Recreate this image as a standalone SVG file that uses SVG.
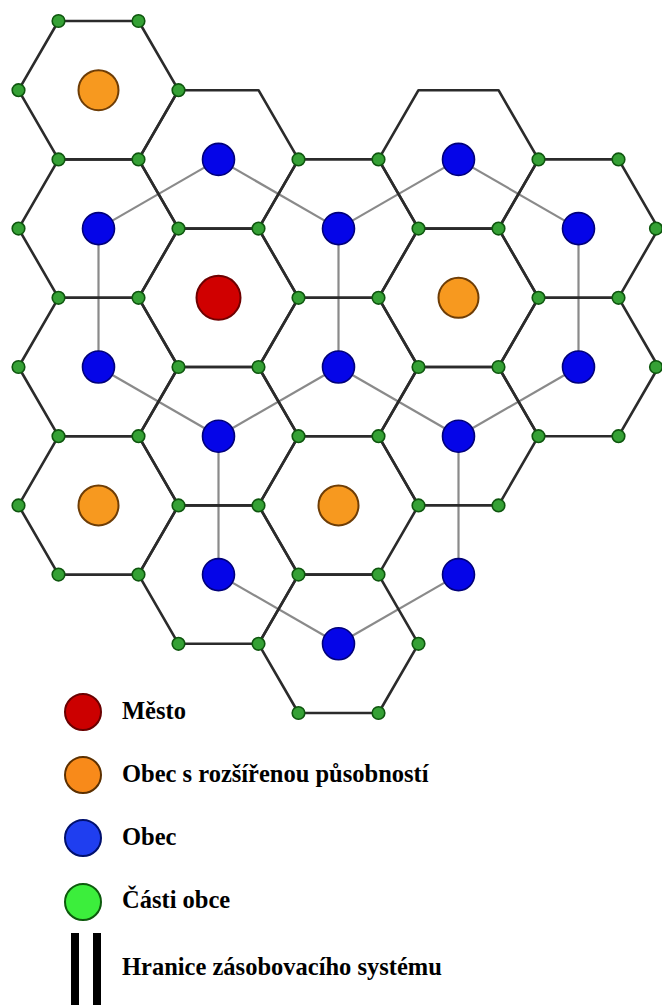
<svg xmlns="http://www.w3.org/2000/svg" width="662" height="1005" viewBox="0 0 662 1005">
<style>
.hex{fill:none;stroke:#2b2b2b;stroke-width:2.6;stroke-linejoin:round}
.con{stroke:#8a8a8a;stroke-width:2.2;fill:none}
.g{fill:#35a135;stroke:#0e560e;stroke-width:1.6}
.b{fill:#0505e8;stroke:#00007a;stroke-width:1.6}
.o{fill:#f7991f;stroke:#6e3d06;stroke-width:2}
.r{fill:#d00000;stroke:#6e0000;stroke-width:2}
.lt{font-family:"Liberation Serif","Times New Roman",serif;font-weight:bold;font-size:24.5px;fill:#000}
</style>
<defs>
<polygon id="hex" class="hex" points="-80,0 -40,-69.2 40,-69.2 80,0 40,69.2 -40,69.2"/>
</defs>
<rect width="662" height="1005" fill="#ffffff"/>
<g id="connectors">
<line class="con" x1="98.5" y1="228.6" x2="218.5" y2="159.4"/>
<line class="con" x1="218.5" y1="159.4" x2="338.5" y2="228.6"/>
<line class="con" x1="338.5" y1="228.6" x2="458.5" y2="159.4"/>
<line class="con" x1="458.5" y1="159.4" x2="578.5" y2="228.6"/>
<line class="con" x1="98.5" y1="228.6" x2="98.5" y2="367"/>
<line class="con" x1="338.5" y1="228.6" x2="338.5" y2="367"/>
<line class="con" x1="578.5" y1="228.6" x2="578.5" y2="367"/>
<line class="con" x1="98.5" y1="367" x2="218.5" y2="436.2"/>
<line class="con" x1="338.5" y1="367" x2="218.5" y2="436.2"/>
<line class="con" x1="338.5" y1="367" x2="458.5" y2="436.2"/>
<line class="con" x1="578.5" y1="367" x2="458.5" y2="436.2"/>
<line class="con" x1="218.5" y1="436.2" x2="218.5" y2="574.6"/>
<line class="con" x1="458.5" y1="436.2" x2="458.5" y2="574.6"/>
<line class="con" x1="218.5" y1="574.6" x2="338.5" y2="643.8"/>
<line class="con" x1="458.5" y1="574.6" x2="338.5" y2="643.8"/>
</g>
<g id="hexagons">
<use href="#hex" x="98.5" y="90.2"/>
<use href="#hex" x="98.5" y="228.6"/>
<use href="#hex" x="98.5" y="367"/>
<use href="#hex" x="98.5" y="505.4"/>
<use href="#hex" x="218.5" y="159.4"/>
<use href="#hex" x="218.5" y="297.8"/>
<use href="#hex" x="218.5" y="436.2"/>
<use href="#hex" x="218.5" y="574.6"/>
<use href="#hex" x="338.5" y="228.6"/>
<use href="#hex" x="338.5" y="367"/>
<use href="#hex" x="338.5" y="505.4"/>
<use href="#hex" x="338.5" y="643.8"/>
<use href="#hex" x="458.5" y="159.4"/>
<use href="#hex" x="458.5" y="297.8"/>
<use href="#hex" x="458.5" y="436.2"/>
<use href="#hex" x="578.5" y="228.6"/>
<use href="#hex" x="578.5" y="367"/>
</g>
<g id="parts">
<g id="p-18-1"><circle class="g" cx="18.5" cy="90.2" r="6.3"/></g>
<g id="p-18-3"><circle class="g" cx="18.5" cy="228.6" r="6.3"/></g>
<g id="p-18-5"><circle class="g" cx="18.5" cy="367" r="6.3"/></g>
<g id="p-18-7"><circle class="g" cx="18.5" cy="505.4" r="6.3"/></g>
<g id="p-58-0"><circle class="g" cx="58.5" cy="21" r="6.3"/></g>
<g id="p-58-2"><circle class="g" cx="58.5" cy="159.4" r="6.3"/></g>
<g id="p-58-4"><circle class="g" cx="58.5" cy="297.8" r="6.3"/></g>
<g id="p-58-6"><circle class="g" cx="58.5" cy="436.2" r="6.3"/></g>
<g id="p-58-8"><circle class="g" cx="58.5" cy="574.6" r="6.3"/></g>
<g id="p-138-0"><circle class="g" cx="138.5" cy="21" r="6.3"/></g>
<g id="p-138-2"><circle class="g" cx="138.5" cy="159.4" r="6.3"/></g>
<g id="p-138-4"><circle class="g" cx="138.5" cy="297.8" r="6.3"/></g>
<g id="p-138-6"><circle class="g" cx="138.5" cy="436.2" r="6.3"/></g>
<g id="p-138-8"><circle class="g" cx="138.5" cy="574.6" r="6.3"/></g>
<g id="p-178-1"><circle class="g" cx="178.5" cy="90.2" r="6.3"/></g>
<g id="p-178-3"><circle class="g" cx="178.5" cy="228.6" r="6.3"/></g>
<g id="p-178-5"><circle class="g" cx="178.5" cy="367" r="6.3"/></g>
<g id="p-178-7"><circle class="g" cx="178.5" cy="505.4" r="6.3"/></g>
<g id="p-178-9"><circle class="g" cx="178.5" cy="643.8" r="6.3"/></g>
<g id="p-258-3"><circle class="g" cx="258.5" cy="228.6" r="6.3"/></g>
<g id="p-258-5"><circle class="g" cx="258.5" cy="367" r="6.3"/></g>
<g id="p-258-7"><circle class="g" cx="258.5" cy="505.4" r="6.3"/></g>
<g id="p-258-9"><circle class="g" cx="258.5" cy="643.8" r="6.3"/></g>
<g id="p-298-2"><circle class="g" cx="298.5" cy="159.4" r="6.3"/></g>
<g id="p-298-4"><circle class="g" cx="298.5" cy="297.8" r="6.3"/></g>
<g id="p-298-6"><circle class="g" cx="298.5" cy="436.2" r="6.3"/></g>
<g id="p-298-8"><circle class="g" cx="298.5" cy="574.6" r="6.3"/></g>
<g id="p-298-10"><circle class="g" cx="298.5" cy="713" r="6.3"/></g>
<g id="p-378-2"><circle class="g" cx="378.5" cy="159.4" r="6.3"/></g>
<g id="p-378-4"><circle class="g" cx="378.5" cy="297.8" r="6.3"/></g>
<g id="p-378-6"><circle class="g" cx="378.5" cy="436.2" r="6.3"/></g>
<g id="p-378-8"><circle class="g" cx="378.5" cy="574.6" r="6.3"/></g>
<g id="p-378-10"><circle class="g" cx="378.5" cy="713" r="6.3"/></g>
<g id="p-418-3"><circle class="g" cx="418.5" cy="228.6" r="6.3"/></g>
<g id="p-418-5"><circle class="g" cx="418.5" cy="367" r="6.3"/></g>
<g id="p-418-7"><circle class="g" cx="418.5" cy="505.4" r="6.3"/></g>
<g id="p-418-9"><circle class="g" cx="418.5" cy="643.8" r="6.3"/></g>
<g id="p-498-3"><circle class="g" cx="498.5" cy="228.6" r="6.3"/></g>
<g id="p-498-5"><circle class="g" cx="498.5" cy="367" r="6.3"/></g>
<g id="p-498-7"><circle class="g" cx="498.5" cy="505.4" r="6.3"/></g>
<g id="p-538-2"><circle class="g" cx="538.5" cy="159.4" r="6.3"/></g>
<g id="p-538-4"><circle class="g" cx="538.5" cy="297.8" r="6.3"/></g>
<g id="p-538-6"><circle class="g" cx="538.5" cy="436.2" r="6.3"/></g>
<g id="p-618-2"><circle class="g" cx="618.5" cy="159.4" r="6.3"/></g>
<g id="p-618-4"><circle class="g" cx="618.5" cy="297.8" r="6.3"/></g>
<g id="p-618-6"><circle class="g" cx="618.5" cy="436.2" r="6.3"/></g>
<g id="p-658-3"><circle class="g" cx="656" cy="228.6" r="6.3"/></g>
<g id="p-658-5"><circle class="g" cx="656" cy="367" r="6.3"/></g>
</g>
<g id="towns">
<g id="mesto"><circle class="r" cx="218.5" cy="297.8" r="22"/></g>
<g id="orp1"><circle class="o" cx="98.5" cy="90.2" r="20"/></g>
<g id="orp2"><circle class="o" cx="458.5" cy="297.8" r="20"/></g>
<g id="orp3"><circle class="o" cx="98.5" cy="505.4" r="20"/></g>
<g id="orp4"><circle class="o" cx="338.5" cy="505.4" r="20"/></g>
<g id="obec1"><circle class="b" cx="218.5" cy="159.4" r="16"/></g>
<g id="obec2"><circle class="b" cx="98.5" cy="228.6" r="16"/></g>
<g id="obec3"><circle class="b" cx="338.5" cy="228.6" r="16"/></g>
<g id="obec4"><circle class="b" cx="458.5" cy="159.4" r="16"/></g>
<g id="obec5"><circle class="b" cx="578.5" cy="228.6" r="16"/></g>
<g id="obec6"><circle class="b" cx="98.5" cy="367" r="16"/></g>
<g id="obec7"><circle class="b" cx="338.5" cy="367" r="16"/></g>
<g id="obec8"><circle class="b" cx="578.5" cy="367" r="16"/></g>
<g id="obec9"><circle class="b" cx="218.5" cy="436.2" r="16"/></g>
<g id="obec10"><circle class="b" cx="458.5" cy="436.2" r="16"/></g>
<g id="obec11"><circle class="b" cx="218.5" cy="574.6" r="16"/></g>
<g id="obec12"><circle class="b" cx="458.5" cy="574.6" r="16"/></g>
<g id="obec13"><circle class="b" cx="338.5" cy="643.8" r="16"/></g>
</g>
<g id="legend">
<g id="leg-mesto"><circle cx="83" cy="712" r="18" fill="#cc0000" stroke="#6a0000" stroke-width="2"/><text class="lt" x="122" y="719">Město</text></g>
<g id="leg-orp"><circle cx="83" cy="775" r="18" fill="#f88a1a" stroke="#5c3000" stroke-width="2"/><text class="lt" x="122" y="782">Obec s rozšířenou působností</text></g>
<g id="leg-obec"><circle cx="83" cy="838" r="18" fill="#1f3ef0" stroke="#00106e" stroke-width="2"/><text class="lt" x="122" y="845">Obec</text></g>
<g id="leg-casti"><circle cx="83" cy="902" r="18" fill="#3cee3c" stroke="#0d5a0d" stroke-width="2"/><text class="lt" x="122" y="908">Části obce</text></g>
<g id="leg-hranice"><rect x="71" y="933" width="8" height="72" fill="#000"/><rect x="93" y="933" width="8" height="72" fill="#000"/><text class="lt" x="122" y="975">Hranice zásobovacího systému</text></g>
</g>
</svg>
